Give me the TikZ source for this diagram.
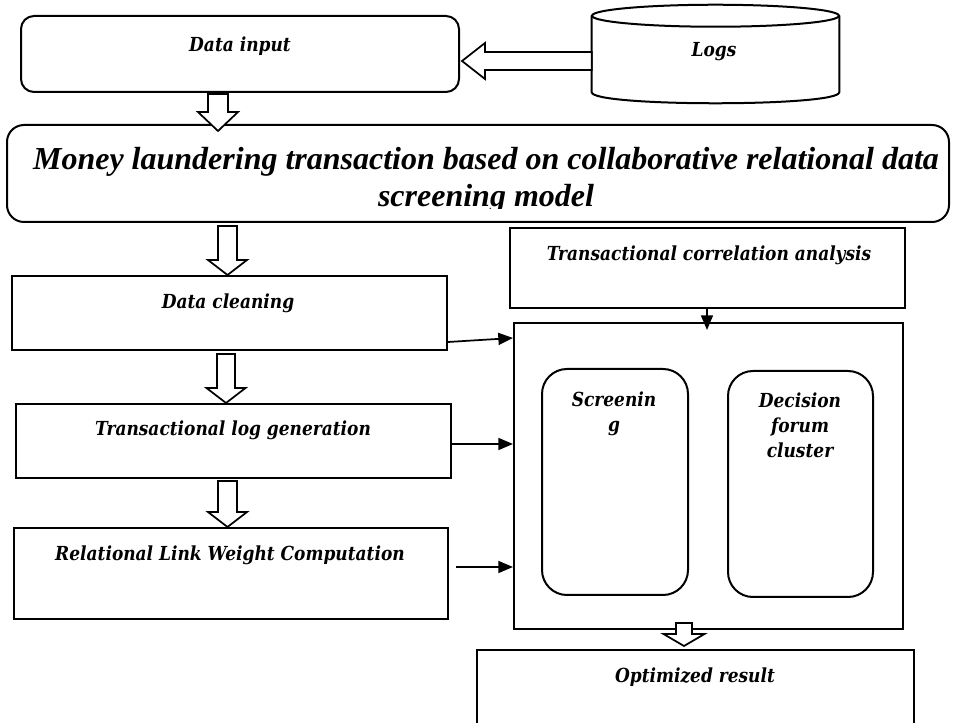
\documentclass[tikz,border=0pt]{standalone}
\usepackage{fontspec}
\setmainfont{Liberation Serif}
\newfontfamily\lblfont[FakeStretch=0.88]{DejaVu Serif}
\usetikzlibrary{calc,arrows.meta}

\tikzset{
  box/.style={draw, line width=1.5pt, inner sep=0pt, fill=white},
  rbox/.style={box, rounded corners=#1},
  lbl/.style={anchor=base, inner sep=0pt, font=\lblfont\bfseries\itshape\fontsize{14.5}{18}\selectfont},
  ttl/.style={anchor=base, inner sep=0pt, font=\bfseries\itshape\fontsize{24}{28}\selectfont},
  conn/.style={line width=1.3pt, -{Triangle[length=11pt,width=9pt]}},
  hollow/.style={draw, line width=1.3pt, fill=white, line join=miter},
}

% block arrow pointing down: start, tip, shaft half-width, head half-width, head length
\newcommand\downblock[5]{%
  \draw[hollow] ($(#1)+(-#3,0)$) -- ($(#2)+(-#3,-#5)$) -- ($(#2)+(-#4,-#5)$) -- (#2)
    -- ($(#2)+(#4,-#5)$) -- ($(#2)+(#3,-#5)$) -- ($(#1)+(#3,0)$) -- cycle;}
% block arrow pointing left: start, tip, shaft half-width, head half-width, head length
\newcommand\leftblock[5]{%
  \draw[hollow] ($(#1)+(0,-#3)$) -- ($(#2)+(#5,-#3)$) -- ($(#2)+(#5,-#4)$) -- (#2)
    -- ($(#2)+(#5,#4)$) -- ($(#2)+(#5,#3)$) -- ($(#1)+(0,#3)$) -- cycle;}

\begin{document}
\begin{tikzpicture}[x=0.75pt,y=-0.75pt]
\clip (0,0) rectangle (954,723);
\fill[white] (0,0) rectangle (954,723);

% input stage
\node[rbox=9.75pt, minimum width=328.5pt, minimum height=57pt] (din) at (240,54) {};
\node[lbl] (dinT) at (240,51.7) {Data input};

% log store drawn as a cylinder
\node[inner sep=0pt, minimum width=185.25pt, minimum height=57pt] (logs) at (715.5,54) {};
\draw[line width=1.5pt, fill=white] (logs.north west) -- (logs.south west)
  .. controls ($(logs.south west)+(0,14.67)$) and ($(logs.south east)+(0,14.67)$) .. (logs.south east)
  -- (logs.north east);
\draw[line width=1.5pt, fill=white] (logs.north) ellipse [x radius=92.625pt, y radius=8.25pt];
\node[lbl] (logsT) at (714,57) {Logs};

% model box
\node[rbox=12.75pt, minimum width=706.5pt, minimum height=72.75pt] (mlb) at (478,173.5) {};
\node[ttl] (mlbA) at (486,170) {Money laundering transaction based on collaborative relational data};
\begin{scope}
  \clip (0,0) rectangle (954,209);
  \node[ttl] (mlbB) at (486,207) {screening model};
\end{scope}

% left column
\node[box, minimum width=326.25pt, minimum height=55.5pt] (dc) at (229.5,313) {};
\node[lbl] (dcT) at (228,309) {Data cleaning};
\node[box, minimum width=326.25pt, minimum height=55.5pt] (tlg) at (233.5,441) {};
\node[lbl] (tlgT) at (233,436) {Transactional log generation};
\node[box, minimum width=325.5pt, minimum height=68.25pt] (rlw) at (231,573.5) {};
\node[lbl] (rlwT) at (230,561) {Relational Link Weight Computation};

% right column
\node[box, minimum width=296.25pt, minimum height=60pt] (tca) at (707.5,268) {};
\node[lbl] (tcaT) at (709,260.3) {Transactional correlation analysis};
\node[box, minimum width=291.75pt, minimum height=229.5pt] (ctr) at (708.5,476) {};
\node[rbox=18.75pt, minimum width=109.5pt, minimum height=169.5pt] (scr) at (615,482) {};
\node[lbl] (scrA) at (614,406.7) {Screenin};
\node[lbl] (scrB) at (614,431.5) {g};
\node[rbox=18.75pt, minimum width=108.75pt, minimum height=169.5pt] (dfc) at (800.5,484) {};
\node[lbl] (dfcA) at (800,407.7) {Decision};
\node[lbl] (dfcB) at (800,432.7) {forum};
\node[lbl] (dfcC) at (800,457.7) {cluster};
\node[box, minimum width=327.75pt, minimum height=82.5pt] (opt) at (695.5,705) {};
\node[lbl] (optT) at (695,682) {Optimized result};

% block arrows
\coordinate (a1s) at ($(logs.west)+(0,7)$);
\coordinate (a1t) at ($(din.east)+(2,7)$);
\leftblock{a1s}{a1t}{9}{18}{23}
\coordinate (a2s) at ($(din.south)+(-22,1)$);
\coordinate (a2t) at ($(a2s |- mlb.north)+(0,7)$);
\downblock{a2s}{a2t}{10}{20}{19}
\coordinate (a3s) at ($(dc.north |- mlb.south)+(-2,3)$);
\coordinate (a3t) at ($(dc.north)+(-2,0)$);
\downblock{a3s}{a3t}{9.5}{19.5}{15}
\coordinate (a4s) at ($(dc.south)+(-3.5,3)$);
\coordinate (a4t) at (a4s |- tlg.north);
\downblock{a4s}{a4t}{9}{19.5}{15}
\coordinate (a5s) at ($(tlg.south)+(-6,2)$);
\coordinate (a5t) at (a5s |- rlw.north);
\downblock{a5s}{a5t}{9.5}{19.5}{15}
\coordinate (a6s) at ($(ctr.south)+(-24.5,-7)$);
\coordinate (a6t) at ($(a6s |- opt.north)+(0,-3)$);
\downblock{a6s}{a6t}{8}{20.5}{12}

% line connectors into the screening block
\draw[conn] ($(dc.south east)+(0,-9)$) -- ($(ctr.north west)+(0,16)$);
\draw[conn] ($(tlg.east)+(0,3)$) coordinate (c2) -- (c2 -| ctr.west);
\draw[conn] ($(rlw.east)+(7,-6.5)$) coordinate (c3) -- (c3 -| ctr.west);
\draw[conn] ($(tca.south)+(-0.5,0)$) coordinate (c4) -- ($(c4 |- ctr.north)+(0,8)$);
\end{tikzpicture}
\end{document}
